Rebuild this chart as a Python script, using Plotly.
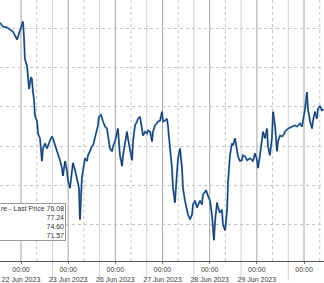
import plotly.graph_objects as go
import pandas as pd

# ---- data ----
times = [
    "2023-06-21 13:20", "2023-06-21 14:50", "2023-06-21 16:55", "2023-06-21 18:25", "2023-06-21 19:55",
    "2023-06-21 22:00", "2023-06-21 23:30",
    "2023-06-22 01:00", "2023-06-22 01:30", "2023-06-22 02:00", "2023-06-22 03:05", "2023-06-22 03:35",
    "2023-06-22 04:05", "2023-06-22 05:05", "2023-06-22 05:35", "2023-06-22 06:05", "2023-06-22 06:35",
    "2023-06-22 07:05", "2023-06-22 08:10", "2023-06-22 08:40", "2023-06-22 09:40", "2023-06-22 10:40",
    "2023-06-22 11:10", "2023-06-22 12:15", "2023-06-22 13:15", "2023-06-22 14:45", "2023-06-22 15:45",
    "2023-06-22 16:15", "2023-06-22 17:20", "2023-06-22 18:20", "2023-06-22 19:50", "2023-06-22 20:50",
    "2023-06-22 21:20", "2023-06-22 22:25", "2023-06-22 23:25", "2023-06-22 23:55",
    "2023-06-23 00:55", "2023-06-23 01:55", "2023-06-23 02:25", "2023-06-23 03:30", "2023-06-23 04:30",
    "2023-06-23 05:30", "2023-06-23 06:00", "2023-06-23 06:30", "2023-06-23 07:00", "2023-06-23 07:35",
    "2023-06-23 08:35", "2023-06-23 09:35", "2023-06-23 10:05", "2023-06-23 11:05", "2023-06-23 12:05",
    "2023-06-23 12:40", "2023-06-23 13:40", "2023-06-23 14:40", "2023-06-23 15:10", "2023-06-23 15:40",
    "2023-06-23 16:40", "2023-06-23 17:45", "2023-06-23 18:45", "2023-06-23 19:45", "2023-06-23 20:15",
    "2023-06-23 21:15", "2023-06-23 22:20", "2023-06-23 22:50", "2023-06-23 23:50",
    "2023-06-26 00:50", "2023-06-26 01:20", "2023-06-26 02:20", "2023-06-26 03:25", "2023-06-26 03:55",
    "2023-06-26 04:55", "2023-06-26 05:55", "2023-06-26 06:25", "2023-06-26 07:30", "2023-06-26 08:30",
    "2023-06-26 09:00", "2023-06-26 10:00", "2023-06-26 11:00", "2023-06-26 11:30", "2023-06-26 12:35",
    "2023-06-26 13:35", "2023-06-26 14:05", "2023-06-26 15:05", "2023-06-26 16:05", "2023-06-26 16:35",
    "2023-06-26 17:40", "2023-06-26 18:40", "2023-06-26 19:10", "2023-06-26 20:10", "2023-06-26 21:10",
    "2023-06-26 21:45", "2023-06-26 22:45", "2023-06-26 23:45",
    "2023-06-27 00:15", "2023-06-27 01:15", "2023-06-27 02:15", "2023-06-27 02:45", "2023-06-27 03:50",
    "2023-06-27 04:50", "2023-06-27 05:20", "2023-06-27 06:20", "2023-06-27 07:20", "2023-06-27 07:55",
    "2023-06-27 08:55", "2023-06-27 09:55", "2023-06-27 10:25", "2023-06-27 11:25", "2023-06-27 13:00",
    "2023-06-27 14:00", "2023-06-27 15:00", "2023-06-27 15:30", "2023-06-27 16:30", "2023-06-27 17:35",
    "2023-06-27 19:05", "2023-06-27 20:05", "2023-06-27 20:35", "2023-06-27 22:10", "2023-06-27 23:10",
    "2023-06-28 00:10", "2023-06-28 01:10", "2023-06-28 02:10", "2023-06-28 02:45", "2023-06-28 03:45",
    "2023-06-28 04:15", "2023-06-28 05:15", "2023-06-28 06:15", "2023-06-28 06:45", "2023-06-28 07:50",
    "2023-06-28 08:50", "2023-06-28 09:20", "2023-06-28 10:20", "2023-06-28 11:20", "2023-06-28 11:50",
    "2023-06-28 12:55", "2023-06-28 13:55", "2023-06-28 14:25", "2023-06-28 15:25", "2023-06-28 16:25",
    "2023-06-28 16:55", "2023-06-28 18:00", "2023-06-28 19:00", "2023-06-28 20:30", "2023-06-28 22:00",
    "2023-06-28 23:05",
    "2023-06-29 00:05", "2023-06-29 00:35", "2023-06-29 01:35", "2023-06-29 02:35", "2023-06-29 03:10",
    "2023-06-29 04:10", "2023-06-29 05:10", "2023-06-29 05:40", "2023-06-29 06:40", "2023-06-29 07:40",
    "2023-06-29 08:15", "2023-06-29 09:15", "2023-06-29 10:15", "2023-06-29 10:45", "2023-06-29 11:45",
    "2023-06-29 12:50", "2023-06-29 13:20", "2023-06-29 14:20", "2023-06-29 15:50", "2023-06-29 17:55",
    "2023-06-29 19:25", "2023-06-29 20:25", "2023-06-29 21:55", "2023-06-29 23:00", "2023-06-29 23:30",
    "2023-06-30 00:30", "2023-06-30 01:30", "2023-06-30 02:00", "2023-06-30 03:05", "2023-06-30 04:05",
    "2023-06-30 04:35", "2023-06-30 05:35", "2023-06-30 06:35", "2023-06-30 07:05", "2023-06-30 08:10",
    "2023-06-30 09:10", "2023-06-30 09:40",
]
prices = [
    77.15, 77.05, 77.03, 76.97, 76.92, 76.72, 76.97,
    77.18, 76.80, 76.22, 76.04, 75.79, 75.46, 75.76, 75.71, 75.38, 75.21,
    74.78, 74.63, 74.32, 74.20, 73.62, 73.94, 74.07, 73.94, 74.15, 74.25,
    74.20, 74.00, 73.87, 73.64, 73.44, 73.24, 73.62, 73.36, 73.11,
    72.93, 73.44, 73.57, 73.39, 73.19, 72.93, 72.13, 72.88, 73.19, 73.39,
    73.69, 73.62, 73.77, 73.87, 74.00, 74.02, 74.20, 74.37, 74.53, 74.75,
    74.80, 74.63, 74.50, 74.45, 74.25, 73.94, 73.87, 74.00, 74.12,
    74.37, 74.45, 73.77, 73.49, 73.77, 74.12, 74.37, 74.20, 73.94, 73.64,
    74.12, 74.53, 74.63, 74.70, 74.75, 74.37, 74.27, 74.37, 74.32, 74.40,
    74.37, 74.12, 74.37, 74.53, 74.58, 74.63, 74.65, 74.88,
    74.63, 74.65, 74.70, 74.53, 73.94, 73.44, 72.93, 72.56, 73.31, 73.69,
    73.94, 73.44, 72.93, 72.61, 72.25, 72.13, 72.25, 72.51, 72.61, 72.43,
    72.61, 72.51, 72.76, 72.88, 72.73,
    72.61, 72.25, 71.60, 72.10, 72.56, 72.43, 72.30, 72.38, 72.00, 71.85,
    72.35, 73.06, 73.77, 74.07, 74.02, 74.20, 73.87, 73.74, 73.62, 73.64,
    73.77, 73.74, 73.64, 73.69, 73.62, 73.82,
    73.64, 73.44, 73.77, 74.20, 74.37, 74.20, 74.45, 74.00, 73.77, 74.20,
    74.88, 74.53, 73.87, 74.12, 74.27, 74.25, 74.27, 74.37, 74.45, 74.50,
    74.53, 74.50, 74.58, 74.50, 74.65,
    74.95, 75.38, 74.95, 74.63, 74.45, 74.65, 74.88, 74.70, 74.95, 75.03,
    74.90, 74.95,
]
day_ticks = ["2023-06-22", "2023-06-23", "2023-06-26", "2023-06-27", "2023-06-28", "2023-06-29", "2023-06-30"]
day_labels = ["22 Jun 2023", "23 Jun 2023", "26 Jun 2023", "27 Jun 2023", "28 Jun 2023", "29 Jun 2023", ""]
y_grid = [72, 73, 74, 75, 76, 77]
legend_lines = ["re - Last Price 76.08", "77.24", "74.60", "71.57"]

x_range = ["2023-06-21 13:19", "2023-06-30 10:10"]
y_range = [71.07, 77.73]

# ---- figure ----
fig = go.Figure()
fig.add_trace(go.Scatter(x=times, y=prices, mode="lines",
                         line=dict(color="#4a8ad2", width=2.0), hoverinfo="skip", showlegend=False))
fig.add_trace(go.Scatter(x=times, y=prices, mode="lines",
                         line=dict(color="#0d1420", width=0.7), showlegend=False))

ticktext = []
for d in day_labels:
    ticktext.append("<span style='color:#3a3a3a'>00:00</span>" + ("<br>" + d if d else ""))

day_ts = pd.to_datetime(day_ticks)
fmt = "%Y-%m-%d %H:%M"
eight_ts = [(t - pd.Timedelta(hours=16)).strftime(fmt) for t in day_ts] + \
           [(day_ts[-1] + pd.Timedelta(hours=8)).strftime(fmt)]
sixteen_ts = [(t + pd.Timedelta(hours=16)).strftime(fmt) for t in day_ts[:-1]]
midnight_ts = [t.strftime(fmt) for t in day_ts]

for s in sixteen_ts:
    fig.add_shape(type="line", xref="x", yref="paper", x0=s, x1=s, y0=-0.075, y1=1,
                  line=dict(color="#d0d0d0", width=1), layer="below")
for s in midnight_ts:
    fig.add_shape(type="line", xref="x", yref="paper", x0=s, x1=s, y0=0, y1=1,
                  line=dict(color="#a6a6a6", width=1), layer="below")
for s in eight_ts:
    fig.add_shape(type="line", xref="x", yref="paper", x0=s, x1=s, y0=0, y1=1,
                  line=dict(color="#c4c4c4", width=1, dash="dot"), layer="below")

fig.add_annotation(xref="paper", yref="paper", x=66 / 324, y=1 - 205 / 264,
                   xanchor="right", yanchor="top", align="right",
                   text="<br>".join(legend_lines), showarrow=False,
                   font=dict(family="Liberation Sans", size=7, color="#333333"),
                   bgcolor="white", bordercolor="#9a9a9a", borderwidth=1, borderpad=1)

fig.update_layout(
    width=324, height=283,
    margin=dict(l=0, r=0, t=0, b=19),
    paper_bgcolor="white", plot_bgcolor="white",
    font=dict(family="Liberation Sans", size=7, color="#333333"),
    xaxis=dict(
        type="date", range=x_range,
        rangebreaks=[dict(bounds=["sat", "mon"])],
        tickmode="array", tickvals=day_ticks, ticktext=ticktext,
        ticks="outside", ticklen=2, tickcolor="#777777",
        showgrid=False,
        showline=True, linecolor="#555555", linewidth=1,
        tickfont=dict(family="Liberation Sans", size=7, color="#3a3a3a"),
        zeroline=False, fixedrange=True,
    ),
    yaxis=dict(
        range=y_range, tickvals=y_grid, showticklabels=False,
        showgrid=True, gridcolor="#c4c4c4", griddash="dot", gridwidth=1,
        zeroline=False, showline=False, fixedrange=True,
    ),
    showlegend=False,
)

fig.write_html("out.html")
